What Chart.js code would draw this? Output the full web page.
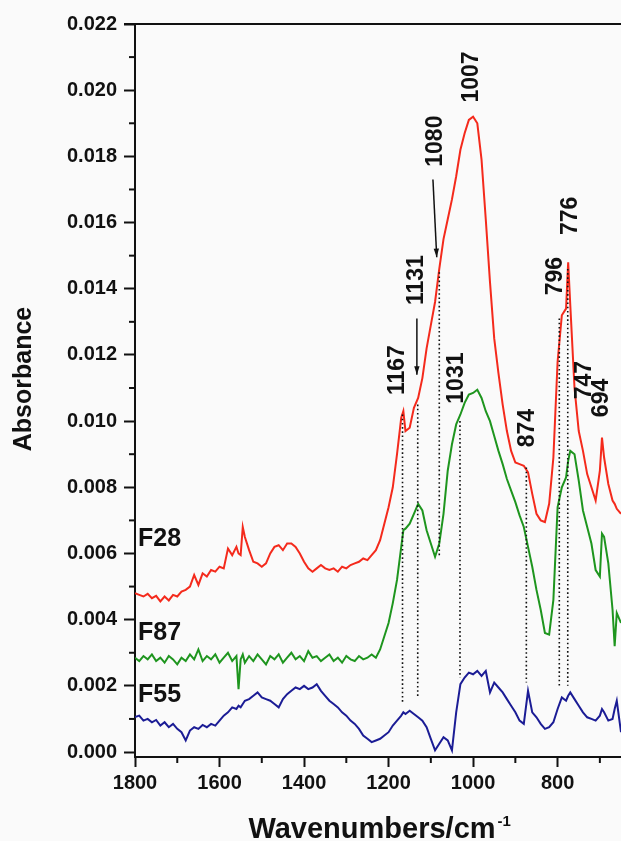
<!DOCTYPE html>
<html>
<head>
<meta charset="utf-8">
<script src="https://cdn.jsdelivr.net/npm/chart.js@4.4.0/dist/chart.umd.min.js"></script>
<style>
  html, body { margin: 0; padding: 0; background: #fafafa; overflow: hidden; }
  canvas { display: block; }
</style>
</head>
<body>
<canvas id="ftirChart" width="621" height="841"></canvas>
<script>
// wavenumber grid (cm-1), a few extra points at the sharp peaks
const wavenumbers = [
  1800, 1790, 1780, 1770, 1760, 1750, 1740, 1730, 1720, 1710,
  1700, 1690, 1680, 1670, 1660, 1650, 1640, 1630, 1620, 1610,
  1600, 1590, 1580, 1570, 1560, 1555, 1550, 1545, 1540, 1530, 1520, 1510,
  1500, 1490, 1480, 1470, 1460, 1450, 1440, 1430, 1420, 1410,
  1400, 1390, 1380, 1370, 1360, 1350, 1340, 1330, 1320, 1310,
  1300, 1290, 1280, 1270, 1260, 1250, 1240, 1230, 1220, 1210,
  1200, 1190, 1180, 1170, 1165, 1160, 1150, 1140, 1130, 1120, 1110,
  1100, 1090, 1080, 1070, 1060, 1050, 1040, 1030, 1020, 1010,
  1000, 990, 980, 970, 960, 950, 940, 930, 920, 910,
  900, 890, 880, 870, 860, 850, 840, 830, 820, 810,
  800, 790, 780, 775, 770, 760, 750, 740, 730, 720, 710,
  700, 695, 690, 680, 670, 665, 660, 650
];

// absorbance, in units of 0.001
const f28 = [
  4.8, 4.75, 4.7, 4.78, 4.65, 4.72, 4.55, 4.7, 4.58, 4.75,
  4.7, 4.85, 4.9, 5.0, 5.35, 5.05, 5.4, 5.3, 5.5, 5.45,
  5.6, 5.55, 6.15, 5.95, 6.2, 6.0, 5.95, 6.8, 6.5, 6.1, 5.75, 5.7,
  5.6, 5.7, 6.0, 6.2, 6.25, 6.1, 6.3, 6.3, 6.2, 6.0,
  5.75, 5.55, 5.45, 5.55, 5.65, 5.55, 5.5, 5.55, 5.45, 5.6,
  5.55, 5.65, 5.7, 5.75, 5.85, 5.8, 5.95, 6.1, 6.4, 6.9,
  7.4, 8.0, 9.0, 10.1, 10.3, 9.7, 9.8, 10.4, 10.7, 11.3, 12.2,
  12.9, 13.6, 14.6, 15.5, 16.1, 16.7, 17.4, 18.2, 18.7, 19.1,
  19.2, 19.0, 17.9, 16.1, 14.2, 12.5, 11.45, 10.5, 9.7, 9.1,
  8.75, 8.7, 8.65, 8.45, 7.8, 7.2, 7.0, 6.95, 7.5, 8.9,
  11.8, 13.2, 13.4, 14.8, 13.5, 11.0, 9.7, 9.1, 8.4, 8.0, 7.6,
  8.5, 9.5, 8.9, 8.1, 7.6, 7.5, 7.35, 7.2
];
const f87 = [
  2.85, 2.75, 2.9, 2.8, 2.95, 2.75, 2.85, 2.7, 2.9, 2.8,
  2.65, 2.85, 2.75, 2.95, 2.8, 3.1, 2.75, 2.9, 2.8, 2.95,
  2.7, 2.85, 3.0, 2.75, 2.9, 1.9, 2.8, 2.95, 2.7, 2.9, 2.75, 2.95,
  2.8, 2.65, 2.9, 2.8, 2.95, 2.7, 2.85, 3.0, 2.8, 2.9,
  2.75, 3.05, 2.85, 2.9, 2.75, 2.85, 2.95, 2.75, 2.85, 2.7,
  2.9, 2.8, 2.75, 2.9, 2.8, 2.85, 2.95, 2.85, 3.1, 3.5,
  3.9, 4.5, 5.2, 6.2, 6.7, 6.75, 6.9, 7.2, 7.5, 7.3, 6.7,
  6.3, 5.9, 6.3, 7.2, 8.5, 9.3, 9.9, 10.2, 10.55, 10.8,
  10.85, 10.95, 10.7, 10.3, 10.0, 9.55, 9.1, 8.7, 8.25, 7.9,
  7.55, 7.15, 6.8, 6.2, 5.6, 4.9, 4.3, 3.6, 3.55, 4.6,
  7.4, 8.0, 8.3, 8.8, 9.1, 9.0, 8.2, 7.3, 6.8, 6.3, 5.5,
  5.3, 6.6, 6.5, 5.7, 4.3, 3.2, 4.2, 3.9
];
const f55 = [
  1.06, 1.1, 0.95, 1.0, 0.9, 0.97, 0.8, 0.9, 0.75, 0.85,
  0.7, 0.6, 0.35, 0.65, 0.75, 0.7, 0.82, 0.75, 0.85, 0.8,
  0.95, 1.1, 1.2, 1.35, 1.3, 1.4, 1.35, 1.45, 1.55, 1.6, 1.7, 1.8,
  1.65, 1.6, 1.55, 1.45, 1.35, 1.6, 1.75, 1.85, 1.95, 1.9,
  2.0, 1.9, 1.95, 2.05, 1.85, 1.7, 1.55, 1.45, 1.35, 1.2,
  1.1, 0.95, 0.85, 0.7, 0.5, 0.4, 0.3, 0.35, 0.4, 0.5,
  0.6, 0.8, 0.95, 1.1, 1.2, 1.15, 1.25, 1.15, 1.05, 0.95, 0.75,
  0.4, 0.05, 0.25, 0.45, 0.35, 0.05, 1.2, 2.05, 2.25, 2.4,
  2.35, 2.45, 2.3, 2.45, 1.8, 2.1, 1.95, 1.8, 1.6, 1.4,
  1.2, 0.95, 0.85, 1.85, 1.2, 1.05, 0.85, 0.7, 0.75, 0.9,
  1.3, 1.65, 1.55, 1.7, 1.8, 1.6, 1.4, 1.2, 1.05, 1.0, 0.95,
  1.1, 1.3, 1.2, 0.95, 1.0, 1.3, 1.55, 0.6
];

const xTicks = [800, 1000, 1200, 1400, 1600, 1800];
const xMinorTicks = [700, 900, 1100, 1300, 1500, 1700];
const yTicks = [0, 0.002, 0.004, 0.006, 0.008, 0.010, 0.012, 0.014, 0.016, 0.018, 0.020, 0.022];
const yMinorTicks = [0.001, 0.003, 0.005, 0.007, 0.009, 0.011, 0.013, 0.015, 0.017, 0.019, 0.021];

// band assignments
const peakLabels = ['1167', '1131', '1080', '1031', '1007', '874', '796', '776', '747', '694'];
// dotted guide lines: wavenumber, top and bottom (x0.001)
const dropWn = [1167, 1131, 1080, 1031, 874, 796, 776];
const dropTop = [10.2, 10.5, 14.5, 10.0, 8.6, 13.1, 14.6];
const dropBottom = [1.5, 1.65, 5.9, 2.25, 2.1, 1.95, 2.0];

const sampleNames = ['F28', 'F87', 'F55'];

const toPoints = (arr) => arr.map((v, i) => ({ x: wavenumbers[i], y: v / 1000 }));

const FONT = '"Liberation Sans", Arial, sans-serif';

const annotations = {
    id: 'annotations',
    afterDraw(chart) {
        const { ctx, chartArea, scales } = chart;
        const X = (v) => scales.x.getPixelForValue(v);
        const Y = (v) => scales.y.getPixelForValue(v / 1000);
        ctx.save();
        ctx.strokeStyle = '#111';
        ctx.fillStyle = '#111';

        // top frame
        ctx.lineWidth = 2;
        ctx.beginPath();
        ctx.moveTo(chartArea.left - 11, chartArea.top);
        ctx.lineTo(chartArea.right, chartArea.top);
        ctx.stroke();

        // minor ticks
        xMinorTicks.forEach(v => {
            ctx.beginPath();
            ctx.moveTo(X(v), chartArea.bottom);
            ctx.lineTo(X(v), chartArea.bottom + 6);
            ctx.stroke();
        });
        yMinorTicks.forEach(v => {
            const y = scales.y.getPixelForValue(v);
            ctx.beginPath();
            ctx.moveTo(chartArea.left - 6, y);
            ctx.lineTo(chartArea.left, y);
            ctx.stroke();
        });

        // dotted guide lines
        ctx.lineWidth = 1.6;
        ctx.setLineDash([1.6, 2.6]);
        dropWn.forEach((w, i) => {
            ctx.beginPath();
            ctx.moveTo(X(w), Y(dropTop[i]));
            ctx.lineTo(X(w), Y(dropBottom[i]));
            ctx.stroke();
        });
        ctx.setLineDash([]);

        // arrows for 1080 and 1131
        const arrow = (x1, y1, x2, y2) => {
            ctx.lineWidth = 1.5;
            ctx.beginPath();
            ctx.moveTo(x1, y1);
            ctx.lineTo(x2, y2);
            ctx.stroke();
            const a = Math.atan2(y2 - y1, x2 - x1);
            ctx.beginPath();
            ctx.moveTo(x2, y2);
            ctx.lineTo(x2 - 9 * Math.cos(a - 0.3), y2 - 9 * Math.sin(a - 0.3));
            ctx.lineTo(x2 - 9 * Math.cos(a + 0.3), y2 - 9 * Math.sin(a + 0.3));
            ctx.closePath();
            ctx.fill();
        };
        arrow(X(1095), Y(17.3), X(1086), Y(14.95));
        arrow(X(1133), Y(13.1), X(1133), Y(11.4));

        // rotated band labels
        const spots = {
            '1167': [1181, 11.54], '1131': [1136, 14.26], '1080': [1091, 18.46],
            '1031': [1041, 11.3], '1007': [1006, 20.4], '874': [873, 9.79],
            '796': [807, 14.38], '776': [772, 16.2], '747': [739, 11.24], '694': [698, 10.7]
        };
        ctx.font = 'bold 23px ' + FONT;
        ctx.textAlign = 'center';
        ctx.textBaseline = 'middle';
        peakLabels.forEach(lbl => {
            const [w, a] = spots[lbl];
            ctx.save();
            ctx.translate(X(w), Y(a));
            ctx.rotate(-Math.PI / 2);
            ctx.fillText(lbl, 0, 1);
            ctx.restore();
        });

        // sample names
        ctx.font = 'bold 25px ' + FONT;
        ctx.textAlign = 'left';
        const nameY = [6.47, 3.63, 1.75];
        sampleNames.forEach((n, i) => ctx.fillText(n, chartArea.left + 3, Y(nameY[i]) + 1));

        // axis titles
        ctx.save();
        ctx.font = 'bold 25px ' + FONT;
        ctx.textAlign = 'center';
        ctx.translate(24, 379);
        ctx.rotate(-Math.PI / 2);
        ctx.fillText('Absorbance', 0, 0);
        ctx.restore();

        ctx.font = 'bold 29px ' + FONT;
        ctx.textBaseline = 'alphabetic';
        ctx.textAlign = 'left';
        const main = 'Wavenumbers/cm';
        const w = ctx.measureText(main).width;
        const x0 = (chartArea.left + chartArea.right) / 2 - w / 2 - 6;
        ctx.fillText(main, x0, 838);
        ctx.font = 'bold 15px ' + FONT;
        ctx.fillText('-1', x0 + w + 2, 826);
        ctx.restore();
    }
};

const chart = new Chart(document.getElementById('ftirChart').getContext('2d'), {
    type: 'line',
    data: {
        datasets: [
            { label: 'F28', data: toPoints(f28), borderColor: '#f42a1c', borderWidth: 2, pointRadius: 0, tension: 0 },
            { label: 'F87', data: toPoints(f87), borderColor: '#1e951e', borderWidth: 2, pointRadius: 0, tension: 0 },
            { label: 'F55', data: toPoints(f55), borderColor: '#1b1c95', borderWidth: 2, pointRadius: 0, tension: 0 },
        ],
    },
    options: {
        responsive: false,
        animation: false,
        layout: { padding: { top: 24, left: 0, right: 0, bottom: 0 } },
        plugins: {
            legend: { display: false },
            tooltip: { enabled: false },
        },
        scales: {
            x: {
                type: 'linear',
                reverse: true,
                min: 650,
                max: 1800,
                afterBuildTicks: (axis) => { axis.ticks = xTicks.map(v => ({ value: v })); },
                afterFit: (axis) => { axis.height = 84; },
                border: { display: true, color: '#111', width: 2 },
                grid: { drawOnChartArea: false, drawTicks: true, tickLength: 10, tickWidth: 2, tickColor: '#111' },
                ticks: {
                    color: '#111',
                    font: { family: FONT, size: 20, weight: 'bold' },
                    padding: 4,
                    maxRotation: 0,
                    callback: (value) => String(value), // no thousands separator
                },
            },
            y: {
                min: -0.00015,
                max: 0.022,
                afterBuildTicks: (axis) => { axis.ticks = yTicks.map(v => ({ value: v })); },
                afterFit: (axis) => { axis.width = 135; },
                border: { display: true, color: '#111', width: 2 },
                grid: { drawOnChartArea: false, drawTicks: true, tickLength: 11, tickWidth: 2, tickColor: '#111' },
                ticks: {
                    color: '#111',
                    font: { family: FONT, size: 20, weight: 'bold' },
                    padding: 7,
                    callback: (value) => value.toFixed(3),
                },
            },
        },
    },
    plugins: [annotations],
});
</script>
</body>
</html>
